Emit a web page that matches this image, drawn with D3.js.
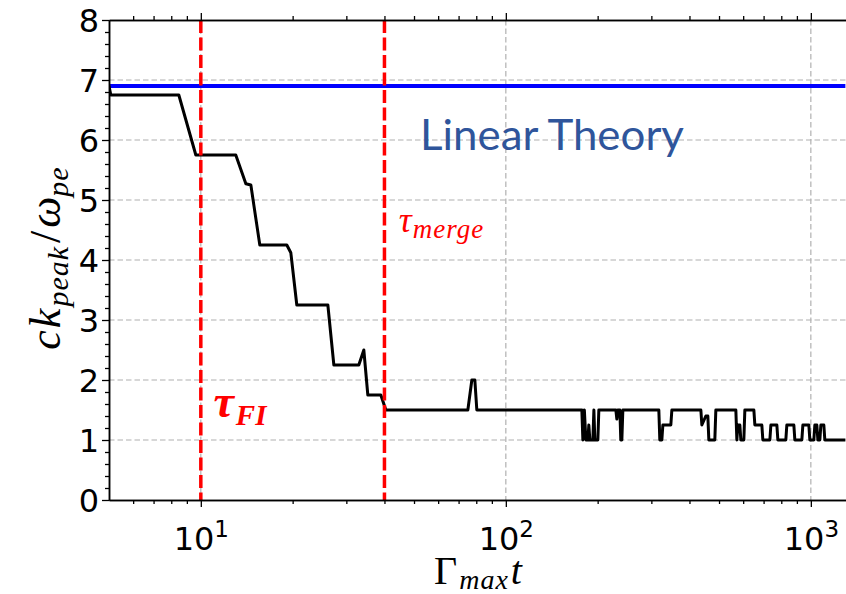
<!DOCTYPE html>
<html>
<head>
<meta charset="utf-8">
<script src="https://cdn.jsdelivr.net/npm/d3@7/dist/d3.min.js"></script>
<style>
  html, body { margin: 0; padding: 0; background: #fff; }
  svg { display: block; }
</style>
</head>
<body>
<svg id="chart" width="846" height="594"></svg>
<script>
// Peak wavenumber of the field vs. normalized time
const timeValues = [
  5.0, 5.07, 8.47, 9.63, 13.02, 14.05, 14.59, 15.61, 19.14, 19.73, 20.64,
  26.09, 27.30, 32.96, 34.23, 35.28, 38.92, 40.43, 75.07, 77.37, 79.14, 80.34,
  177.5, 178.9, 180.9, 183.0, 185.8, 187.1, 188.6, 192.9, 194.4, 195.8, 200.3, 201.8,
  229.5, 231.2, 232.9, 236.5, 238.2, 240.1, 241.9,
  317.4, 319.8, 324.7, 327.2, 347.5, 350.2,
  435.9, 439.2, 452.6, 459.5, 463.0, 484.4, 488.1,
  567.7, 572.0, 576.4, 585.1, 589.5, 603.0, 607.6,
  650.4, 655.3, 690.8, 696.1, 733.9, 739.5, 773.7, 779.6, 827.9, 834.2,
  879.6, 886.2, 934.3, 941.5, 985.0, 992.5, 1022.9, 1030.6, 1046.4, 1054.4,
  1070.3, 1078.5, 1103.0, 1111.4, 1300
];
const kPeakValues = [
  6.9, 6.75, 6.75, 5.75, 5.75, 5.27, 5.25, 4.25, 4.25, 4.12, 3.25,
  3.25, 2.25, 2.25, 2.5, 1.75, 1.75, 1.5, 1.5, 2.0, 2.0, 1.5,
  1.5, 1.0, 1.5, 1.0, 1.0, 1.25, 1.0, 1.0, 1.5, 1.0, 1.0, 1.5,
  1.5, 1.35, 1.5, 1.5, 1.0, 1.0, 1.5,
  1.5, 1.0, 1.0, 1.25, 1.25, 1.5,
  1.5, 1.25, 1.4, 1.4, 1.0, 1.0, 1.5,
  1.5, 1.0, 1.25, 1.25, 1.0, 1.0, 1.5,
  1.5, 1.25, 1.25, 1.0, 1.0, 1.25, 1.25, 1.0, 1.0, 1.25,
  1.25, 1.0, 1.0, 1.25, 1.25, 1.0, 1.0, 1.25, 1.25, 1.0,
  1.0, 1.25, 1.25, 1.0, 1.0
];
const linearTheory = 6.9;
const tauFI = 10;
const tauMerge = 40;
const xMajorTicks = [10, 100, 1000];
const xMinorTicks = [6, 7, 8, 9, 20, 30, 40, 50, 60, 70, 80, 90, 200, 300, 400, 500, 600, 700, 800, 900];
const yMajorTicks = [0, 1, 2, 3, 4, 5, 6, 7, 8];
const yMinorTicks = d3.range(0, 8.001, 0.2).filter(v => Math.abs(v - Math.round(v)) > 1e-6);

const svg = d3.select("#chart");
const plotLeft = 109, plotRight = 845.6, plotTop = 20, plotBottom = 500;

const x = d3.scaleLog().domain([5, 1300]).range([plotLeft, plotRight]);
const y = d3.scaleLinear().domain([0, 8]).range([plotBottom, plotTop]);

const tickFont = "'DejaVu Sans', sans-serif";
const mathFont = "'Liberation Serif', 'DejaVu Serif', serif";

// grid
const grid = svg.append("g").attr("stroke", "#b0b0b0").attr("stroke-width", 1.2)
  .attr("stroke-dasharray", "5.5,3");
grid.selectAll("line.h").data(yMajorTicks.slice(1, 8)).join("line")
  .attr("x1", plotLeft).attr("x2", plotRight)
  .attr("y1", d => y(d)).attr("y2", d => y(d));
grid.selectAll("line.v").data(xMajorTicks).join("line")
  .attr("x1", d => x(d)).attr("x2", d => x(d))
  .attr("y1", plotTop).attr("y2", plotBottom);

svg.append("defs").append("clipPath").attr("id", "plot")
  .append("rect").attr("x", plotLeft).attr("y", plotTop)
  .attr("width", plotRight - plotLeft).attr("height", plotBottom - plotTop);

const plot = svg.append("g").attr("clip-path", "url(#plot)");

// linear theory level
plot.append("line")
  .attr("x1", plotLeft).attr("x2", plotRight)
  .attr("y1", y(linearTheory)).attr("y2", y(linearTheory))
  .attr("stroke", "#0000ff").attr("stroke-width", 4);

// peak wavenumber history
const line = d3.line().x(d => x(d[0])).y(d => y(d[1]));
plot.append("path")
  .datum(d3.zip(timeValues, kPeakValues))
  .attr("d", line)
  .attr("fill", "none").attr("stroke", "#000").attr("stroke-width", 3)
  .attr("stroke-linejoin", "round");

// characteristic times
plot.selectAll("line.tau").data([tauFI, tauMerge]).join("line")
  .attr("x1", d => x(d)).attr("x2", d => x(d))
  .attr("y1", plotTop).attr("y2", plotBottom)
  .attr("stroke", "#ff0000").attr("stroke-width", 3.5)
  .attr("stroke-dasharray", "13,4.5");

// axes
const axisStyle = g => {
  g.select(".domain").attr("stroke", "#000").attr("stroke-width", 1.5);
  g.selectAll(".tick line").attr("stroke", "#000").attr("stroke-width", 1.3);
};

svg.append("g").attr("transform", `translate(0,${plotBottom})`)
  .call(d3.axisBottom(x).tickValues(xMinorTicks).tickFormat("").tickSize(4).tickSizeOuter(0))
  .call(axisStyle);
const xAxis = svg.append("g").attr("transform", `translate(0,${plotBottom})`)
  .call(d3.axisBottom(x).tickValues(xMajorTicks).tickFormat("").tickSize(7).tickSizeOuter(0))
  .call(axisStyle);
xAxis.selectAll(".tick").append("text")
  .attr("y", 50).attr("fill", "#000").attr("text-anchor", "middle")
  .style("font-family", tickFont).style("font-size", "32px")
  .each(function(d) {
    const t = d3.select(this);
    t.append("tspan").text("10");
    t.append("tspan").attr("dy", -13).style("font-size", "23px").text(Math.round(Math.log10(d)));
  });

// top spine with outward ticks
svg.append("g").attr("transform", `translate(0,${plotTop})`)
  .call(d3.axisTop(x).tickValues(xMinorTicks).tickFormat("").tickSize(4).tickSizeOuter(0))
  .call(axisStyle);
svg.append("g").attr("transform", `translate(0,${plotTop})`)
  .call(d3.axisTop(x).tickValues(xMajorTicks).tickFormat("").tickSize(7).tickSizeOuter(0))
  .call(axisStyle);

svg.append("g").attr("transform", `translate(${plotLeft},0)`)
  .call(d3.axisLeft(y).tickValues(yMinorTicks).tickFormat("").tickSize(4).tickSizeOuter(0))
  .call(axisStyle);
const yAxis = svg.append("g").attr("transform", `translate(${plotLeft},0)`)
  .call(d3.axisLeft(y).tickValues(yMajorTicks).tickFormat(d3.format("d")).tickSize(7).tickSizeOuter(0))
  .call(axisStyle);
yAxis.selectAll(".tick text")
  .attr("x", -10).attr("dy", "0.36em").attr("fill", "#000")
  .style("font-family", tickFont).style("font-size", "32px");

// axis titles
const xt = svg.append("text")
  .attr("x", 478).attr("y", 584).attr("text-anchor", "middle")
  .style("font-family", mathFont).style("font-size", "40px").attr("fill", "#000");
xt.append("tspan").text("Γ");
xt.append("tspan").attr("dy", 5).attr("dx", 2).style("font-style", "italic").style("font-size", "28px")
  .style("letter-spacing", "1px").text("max");
xt.append("tspan").attr("dy", -5).attr("dx", 2).style("font-style", "italic").text("t");

const yt = svg.append("text")
  .attr("transform", "translate(60,258) rotate(-90)").attr("text-anchor", "middle")
  .style("font-family", mathFont).style("font-size", "44px").style("font-style", "italic").attr("fill", "#000");
yt.append("tspan").style("letter-spacing", "2px").text("ck");
yt.append("tspan").attr("dy", 8).style("font-size", "30px").style("letter-spacing", "1px").text("peak");
yt.append("tspan").attr("dy", -8).attr("dx", 3).style("font-style", "normal").text("/");
yt.append("tspan").attr("dx", 3).text("ω");
yt.append("tspan").attr("dy", 8).style("font-size", "30px").style("letter-spacing", "1px").text("pe");

// annotations
const fi = svg.append("text")
  .attr("x", x(11.0)).attr("y", y(1.38))
  .style("font-family", mathFont).style("font-style", "italic").style("font-weight", "bold")
  .style("font-size", "46px").attr("fill", "#ff0000");
fi.append("tspan").text("τ");
fi.append("tspan").attr("dy", 8).attr("dx", 2).style("font-size", "29px").text("FI");

const mg = svg.append("text")
  .attr("x", x(44.6)).attr("y", y(4.47))
  .style("font-family", mathFont).style("font-style", "italic")
  .style("font-size", "36px").attr("fill", "#ff0000");
mg.append("tspan").text("τ");
mg.append("tspan").attr("dy", 6).attr("dx", 1).style("font-size", "27px").style("letter-spacing", "1px").text("merge");

svg.append("text")
  .attr("x", x(52.3)).attr("y", y(5.83))
  .attr("textLength", 264).attr("lengthAdjust", "spacingAndGlyphs")
  .style("font-family", "Lato, 'Open Sans', sans-serif").style("font-size", "43px")
  .attr("fill", "#2f559b").text("Linear Theory");
</script>
</body>
</html>
